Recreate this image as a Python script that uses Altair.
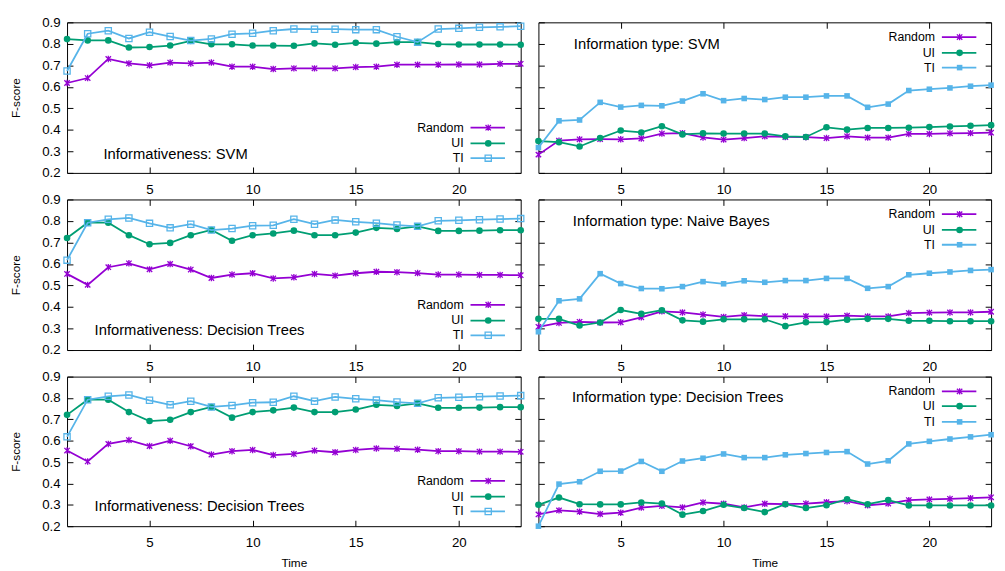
import altair as alt
import pandas as pd

TIME = list(range(1, 24))
SERIES = ["Random", "UI", "TI"]
COLORS = ["#9400d3", "#009e73", "#56b4e9"]
X_TICKS = [5, 10, 15, 20]
Y_TICKS = [0.2, 0.3, 0.4, 0.5, 0.6, 0.7, 0.8, 0.9]

# Informativeness: SVM
inf_svm_random = [0.618, 0.641, 0.730, 0.709, 0.700, 0.713, 0.709, 0.713, 0.694, 0.694, 0.683, 0.686,
                  0.686, 0.686, 0.692, 0.694, 0.703, 0.703, 0.703, 0.704, 0.704, 0.707, 0.707]
inf_svm_ui = [0.822, 0.816, 0.816, 0.783, 0.785, 0.792, 0.814, 0.798, 0.798, 0.792, 0.792, 0.791,
              0.802, 0.796, 0.805, 0.801, 0.808, 0.808, 0.799, 0.797, 0.797, 0.797, 0.796]
inf_svm_ti = [0.674, 0.847, 0.861, 0.825, 0.854, 0.834, 0.815, 0.823, 0.845, 0.849, 0.861, 0.869,
              0.868, 0.868, 0.866, 0.866, 0.833, 0.808, 0.869, 0.872, 0.877, 0.879, 0.882]

# Informativeness: Decision Trees
inf_dt_random = [0.554, 0.503, 0.585, 0.603, 0.575, 0.600, 0.574, 0.535, 0.551, 0.557, 0.533, 0.538,
                 0.554, 0.546, 0.557, 0.564, 0.562, 0.558, 0.551, 0.551, 0.549, 0.549, 0.548]
inf_dt_ui = [0.721, 0.792, 0.792, 0.734, 0.692, 0.698, 0.734, 0.758, 0.708, 0.734, 0.742, 0.755,
             0.734, 0.734, 0.746, 0.768, 0.763, 0.775, 0.754, 0.754, 0.755, 0.757, 0.757]
inf_dt_ti = [0.618, 0.792, 0.808, 0.814, 0.789, 0.768, 0.785, 0.758, 0.765, 0.778, 0.780, 0.808,
             0.785, 0.805, 0.796, 0.790, 0.781, 0.775, 0.801, 0.803, 0.806, 0.809, 0.811]

# Information type: SVM
type_svm_random = [0.285, 0.350, 0.356, 0.357, 0.356, 0.360, 0.383, 0.385, 0.365, 0.355, 0.362, 0.370,
                   0.367, 0.366, 0.362, 0.370, 0.364, 0.364, 0.381, 0.381, 0.384, 0.385, 0.387]
type_svm_ui = [0.348, 0.343, 0.323, 0.362, 0.397, 0.388, 0.417, 0.379, 0.384, 0.383, 0.383, 0.383,
               0.370, 0.367, 0.412, 0.401, 0.409, 0.409, 0.410, 0.413, 0.416, 0.419, 0.422]
type_svm_ti = [0.318, 0.442, 0.446, 0.528, 0.506, 0.514, 0.512, 0.534, 0.568, 0.536, 0.546, 0.541,
               0.552, 0.552, 0.558, 0.558, 0.505, 0.520, 0.583, 0.589, 0.595, 0.603, 0.608]

# Information type: Naive Bayes
type_nb_random = [0.308, 0.326, 0.331, 0.328, 0.329, 0.352, 0.380, 0.375, 0.365, 0.354, 0.362, 0.357,
                  0.357, 0.357, 0.356, 0.360, 0.356, 0.356, 0.372, 0.374, 0.375, 0.375, 0.378]
type_nb_ui = [0.345, 0.345, 0.314, 0.328, 0.386, 0.368, 0.385, 0.338, 0.332, 0.343, 0.343, 0.343,
              0.311, 0.329, 0.330, 0.341, 0.345, 0.345, 0.336, 0.336, 0.334, 0.334, 0.334]
type_nb_ti = [0.285, 0.429, 0.438, 0.555, 0.509, 0.486, 0.485, 0.495, 0.518, 0.508, 0.522, 0.515,
              0.523, 0.523, 0.533, 0.533, 0.487, 0.495, 0.550, 0.557, 0.563, 0.570, 0.574]

# Information type: Decision Trees
type_dt_random = [0.255, 0.274, 0.268, 0.257, 0.263, 0.287, 0.295, 0.288, 0.311, 0.305, 0.288, 0.305,
                  0.303, 0.306, 0.312, 0.317, 0.298, 0.306, 0.322, 0.325, 0.328, 0.331, 0.335]
type_dt_ui = [0.300, 0.334, 0.303, 0.302, 0.302, 0.311, 0.306, 0.254, 0.271, 0.300, 0.285, 0.266,
              0.303, 0.285, 0.298, 0.326, 0.303, 0.322, 0.297, 0.297, 0.297, 0.297, 0.297]
type_dt_ti = [0.200, 0.397, 0.408, 0.457, 0.458, 0.503, 0.457, 0.505, 0.518, 0.538, 0.521, 0.521,
              0.534, 0.540, 0.545, 0.549, 0.491, 0.506, 0.585, 0.597, 0.608, 0.618, 0.628]

FONT = "Liberation Sans"
ASTERISK = "M-1,-1L1,1M-1,1L1,-1M0,-1.2L0,1.2"


def marker(series_idx, ti_filled):
    color = COLORS[series_idx]
    if series_idx == 0:
        return dict(shape=ASTERISK, filled=False, size=30, strokeWidth=1.3, color=color, opacity=1)
    if series_idx == 1:
        return dict(shape="circle", filled=True, size=45, color=color, opacity=1)
    if ti_filled:
        return dict(shape="square", filled=True, size=32, color=color, opacity=1)
    return dict(shape="square", filled=False, size=40, strokeWidth=1.3, color=color, opacity=1)


def make_panel(values, title, title_xy, legend_ys, is_left, is_bottom, ti_filled, width, height):
    xs = alt.Scale(domain=[1, 23], nice=False, zero=False)
    ys = alt.Scale(domain=[0.2, 0.9], nice=False, zero=False)
    one = alt.Data(values=[{"k": 0}])
    layers = []
    base_df = pd.DataFrame({"Time": TIME, "F": values[0]})

    bottom_axis = dict(orient="bottom", values=X_TICKS, offset=-6, tickSize=6, domain=False, grid=False,
                       labelPadding=10, labelFontSize=13.5, labelFont=FONT, labelColor="black",
                       tickColor="black", tickWidth=1)
    if is_bottom:
        bottom_axis.update(title="Time", titleFont=FONT, titleFontSize=12, titleFontWeight="normal",
                           titleColor="black", titlePadding=8)
    else:
        bottom_axis.update(title=None)
    left_axis = dict(orient="left", values=Y_TICKS, offset=-6, tickSize=6, domain=False, grid=False,
                     format=".1f", labels=is_left, labelPadding=7, labelFontSize=13.5, labelFont=FONT,
                     labelColor="black", tickColor="black", tickWidth=1)
    if is_left:
        left_axis.update(title="F-score", titleFont=FONT, titleFontSize=12, titleFontWeight="normal",
                         titleColor="black", titlePadding=20)
    else:
        left_axis.update(title=None)

    layers.append(alt.Chart(base_df).mark_point(opacity=0).encode(
        x=alt.X("Time:Q", scale=xs, axis=alt.Axis(**bottom_axis)),
        y=alt.Y("F:Q", scale=ys, axis=alt.Axis(**left_axis)),
    ))
    layers.append(alt.Chart(base_df).mark_point(opacity=0).encode(
        x=alt.X("Time:Q", scale=xs, axis=alt.Axis(orient="top", values=X_TICKS, offset=-6, tickSize=6,
                                                  domain=False, grid=False, labels=False, title=None,
                                                  tickColor="black", tickWidth=1)),
        y=alt.Y("F:Q", scale=ys, axis=alt.Axis(orient="right", values=Y_TICKS, offset=-6, tickSize=6,
                                               domain=False, grid=False, labels=False, title=None,
                                               tickColor="black", tickWidth=1)),
    ))

    for i, name in enumerate(SERIES):
        df = pd.DataFrame({"Time": TIME, "F": values[i]})
        enc = dict(x=alt.X("Time:Q", scale=xs, axis=None), y=alt.Y("F:Q", scale=ys, axis=None))
        layers.append(alt.Chart(df).mark_line(color=COLORS[i], strokeWidth=1.8).encode(**enc))
        layers.append(alt.Chart(df).mark_point(**marker(i, ti_filled)).encode(**enc))

    layers.append(alt.Chart(one).mark_text(
        text=title, align="left", baseline="middle", font=FONT, fontSize=15, color="black"
    ).encode(x=alt.value(title_xy[0]), y=alt.value(title_xy[1])))

    for i, name in enumerate(SERIES):
        yy = legend_ys[i]
        layers.append(alt.Chart(one).mark_text(
            text=name, align="right", baseline="middle", font=FONT, fontSize=12.5, color="black"
        ).encode(x=alt.value(403), y=alt.value(yy)))
        layers.append(alt.Chart(one).mark_rule(color=COLORS[i], strokeWidth=1.8).encode(
            x=alt.value(410), x2=alt.value(445), y=alt.value(yy)))
        layers.append(alt.Chart(one).mark_point(**marker(i, ti_filled)).encode(
            x=alt.value(428), y=alt.value(yy)))

    return alt.layer(*layers).resolve_axis(x="independent", y="independent").properties(
        width=width, height=height)


LEFT_W, RIGHT_W = 461, 460
panels = [
    make_panel([inf_svm_random, inf_svm_ui, inf_svm_ti], "Informativeness: SVM", (37, 134),
               [107, 123, 138], True, False, False, LEFT_W, 153),
    make_panel([type_svm_random, type_svm_ui, type_svm_ti], "Information type: SVM", (36, 22),
               [15, 31, 46], False, False, True, RIGHT_W, 153),
    make_panel([inf_dt_random, inf_dt_ui, inf_dt_ti], "Informativeness: Decision Trees", (28, 133),
               [107, 123, 138], True, False, False, LEFT_W, 153),
    make_panel([type_nb_random, type_nb_ui, type_nb_ti], "Information type: Naive Bayes", (35, 22),
               [15, 31, 46], False, False, True, RIGHT_W, 153),
    make_panel([inf_dt_random, inf_dt_ui, inf_dt_ti], "Informativeness: Decision Trees", (28, 132),
               [106, 122, 137], True, True, False, LEFT_W, 152),
    make_panel([type_dt_random, type_dt_ui, type_dt_ti], "Information type: Decision Trees", (34, 21),
               [15, 30, 46], False, True, True, RIGHT_W, 152),
]

chart = alt.concat(*panels, columns=2, spacing={"row": 27, "column": 18}, bounds="flush").properties(
    padding={"left": 0, "top": 2, "right": 0, "bottom": 0}
).configure(font=FONT).configure_view(stroke="black", strokeWidth=1)

chart.save("out.html", embed_options={"renderer": "svg", "actions": False})
